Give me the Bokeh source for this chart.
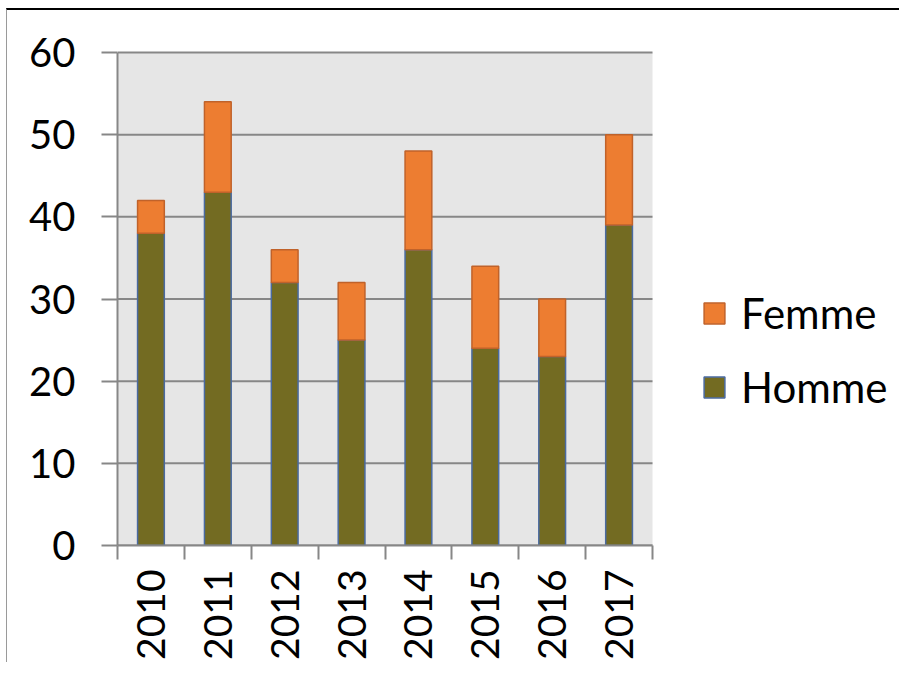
import math
from bokeh.plotting import figure
from bokeh.models import Range1d, FixedTicker, Legend, LegendItem, ColumnDataSource
from bokeh.embed import file_html
from bokeh.resources import INLINE

years = ["2010", "2011", "2012", "2013", "2014", "2015", "2016", "2017"]
homme = [38, 43, 32, 25, 36, 24, 23, 39]
femme = [4, 11, 4, 7, 12, 10, 7, 11]
y_ticks = [0, 10, 20, 30, 40, 50, 60]

n = len(years)
xpos = [i + 0.5 for i in range(n)]
src = ColumnDataSource(dict(x=xpos, Homme=homme, Femme=femme))

FONT = "Lato"
GRAY = "#878787"

# layout (pixels, relative to the canvas which sits 7px right / 10px down in the box)
LEFT, PLOT_W, PLOT_TOP, PLOT_H = 110, 535, 42, 493
FRAME_W, FRAME_H = 782, PLOT_TOP + PLOT_H
ymax = y_ticks[-1]
x_end = n * FRAME_W / PLOT_W
y_end = ymax * FRAME_H / PLOT_H

p = figure(frame_width=FRAME_W, frame_height=FRAME_H, output_backend="svg", toolbar_location=None,
           x_range=Range1d(0, x_end), y_range=Range1d(0, y_end),
           min_border_left=LEFT, min_border_top=0, min_border_right=0, min_border_bottom=113)
p.border_fill_color = "white"
p.background_fill_color = "white"
p.outline_line_color = None
p.styles = {"margin-left": "6px", "margin-top": "8px",
            "border-left": "1px solid #9a9a9a", "border-top": "2px solid black"}

# plot area background and grid lines
p.quad(left=0, right=n, bottom=0, top=ymax, fill_color="#e6e6e6", line_color=None, level="underlay")
p.segment(x0=[0] * len(y_ticks), x1=[n] * len(y_ticks), y0=y_ticks, y1=y_ticks,
          line_color=GRAY, line_width=2, level="underlay")
p.xgrid.visible = False
p.ygrid.visible = False

rs = p.vbar_stack(["Homme", "Femme"], x="x", width=0.4, source=src,
                  fill_color=["#736b22", "#ed7d31"],
                  line_color=["#4a6aa0", "#c0622a"], line_width=1.5)

# y axis
ya = p.yaxis[0]
ya.ticker = FixedTicker(ticks=y_ticks)
ya.bounds = (0, ymax)
ya.axis_line_color = GRAY
ya.axis_line_width = 2
ya.major_tick_line_color = GRAY
ya.major_tick_line_width = 2
ya.major_tick_out = 16
ya.major_tick_in = 0
ya.minor_tick_line_color = None
ya.major_label_text_font = FONT
ya.major_label_text_font_size = "40px"
ya.major_label_text_color = "black"
ya.major_label_standoff = 26

# x axis: labels at centers, ticks at boundaries (minor ticks)
xa = p.xaxis[0]
xa.ticker = FixedTicker(ticks=xpos, minor_ticks=list(range(n + 1)))
xa.bounds = (0, n)
xa.major_label_overrides = {x: y for x, y in zip(xpos, years)}
xa.major_tick_line_color = None
xa.major_tick_out = 0
xa.major_tick_in = 0
xa.minor_tick_line_color = GRAY
xa.minor_tick_line_width = 2
xa.minor_tick_out = 14
xa.minor_tick_in = 0
xa.axis_line_color = GRAY
xa.axis_line_width = 2
xa.major_label_orientation = math.pi / 2
xa.major_label_text_font = FONT
xa.major_label_text_font_size = "39px"
xa.major_label_text_color = "black"
xa.major_label_standoff = 10

legend = Legend(items=[LegendItem(label="Femme", renderers=[rs[1]]),
                       LegendItem(label="Homme", renderers=[rs[0]])],
                location=(584, 133), padding=0, margin=0, spacing=24,
                glyph_width=26, glyph_height=26, label_standoff=14,
                label_text_font=FONT, label_text_font_size="42px", label_text_color="black",
                border_line_color=None, background_fill_alpha=0)
p.add_layout(legend, "center")

open("out.html", "w").write(file_html(p, INLINE))
